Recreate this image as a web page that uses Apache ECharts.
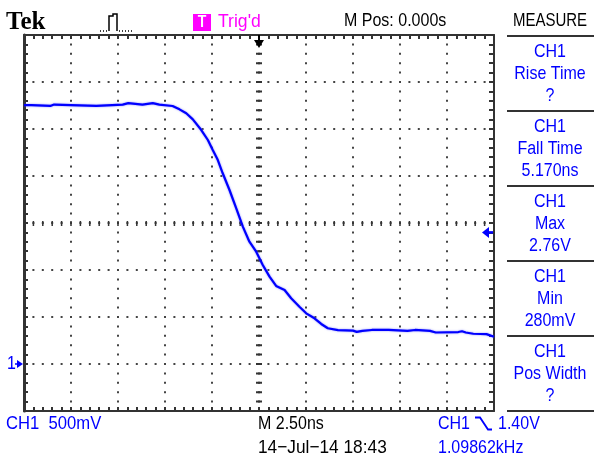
<!DOCTYPE html>
<html><head><meta charset="utf-8">
<script src="https://cdn.jsdelivr.net/npm/echarts@6/dist/echarts.min.js"></script>
<style>html,body{margin:0;padding:0;background:#fff;overflow:hidden}#c{width:594px;height:462px}</style>
</head><body><div id="c"></div>
<script>
// ---- data (time in ns, voltage in V) ----
const timeNs = [-12.5,-12.1,-12.05,-11.1,-11.05,-10.9,-10.85,-8.65,-8.6,-7.25,-7.2,-6.95,-6.9,-6.2,-6.15,-5.65,-5.6,-5.3,-5.25,-4.6,
  -4.23,-3.87,-3.52,-3.07,-2.72,-2.46,-2.19,-1.93,-1.57,-1.21,-0.86,-0.51,-0.15,0.20,0.56,0.91,1.36,1.71,2.15,2.51,2.95,3.31,3.66,
  4.2,5.0,5.2,5.5,6.0,6.9,7.0,7.9,8.0,8.3,8.4,9.1,9.4,10.6,10.8,11.0,11.4,12.1,12.5];
const volts = [2.755,2.755,2.745,2.745,2.76,2.76,2.745,2.745,2.76,2.76,2.775,2.775,2.76,2.76,2.775,2.775,2.76,2.76,2.745,2.745,
  2.709,2.667,2.603,2.489,2.383,2.277,2.17,2.029,1.851,1.656,1.461,1.301,1.195,1.053,0.929,0.83,0.787,0.699,0.61,0.539,0.486,0.426,0.38,
  0.36,0.355,0.342,0.352,0.362,0.362,0.352,0.352,0.362,0.362,0.352,0.352,0.335,0.34,0.348,0.335,0.322,0.318,0.29];
const timeRangeNs = [-12.5, 12.5];   // 2.50ns/div, 10 div
const nsPerDiv = 2.5;
const voltRange = [-0.5, 3.5];       // 500mV/div, 8 div
const voltsPerDiv = 0.5;
const triggerLevel = 1.40;
const triggerTime = 0;
const groundLevel = 0;
const measureBlocks = [["CH1","Rise Time","?"],["CH1","Fall Time","5.170ns"],["CH1","Max","2.76V"],["CH1","Min","280mV"],["CH1","Pos Width","?"]];

const BLUE = '#0000ff';
const FONT = 'Liberation Sans, Arial, sans-serif';
const chart = echarts.init(document.getElementById('c'), null, {renderer: 'canvas'});

const dotLine = {type: [2, 7.4], dashOffset: 1, color: '#444', width: 2};
const tickStyle = {color: '#333', width: 2};
function frameAxis(pos, extra) {
  return Object.assign({
    type: 'value', position: pos, gridIndex: 0,
    axisLine: {show: true, onZero: false, lineStyle: {color: '#333', width: 2}},
    axisTick: {show: true, inside: true, length: 4, lineStyle: tickStyle},
    minorTick: {show: true, splitNumber: 5, length: 4, lineStyle: tickStyle},
    axisLabel: {show: false}, splitLine: {show: false}, minorSplitLine: {show: false}
  }, extra);
}

const xMain = frameAxis('bottom', {min: timeRangeNs[0], max: timeRangeNs[1], interval: nsPerDiv, splitLine: {show: true, lineStyle: dotLine}});
const xTop = frameAxis('top', {min: timeRangeNs[0], max: timeRangeNs[1], interval: nsPerDiv});
const yMain = frameAxis('left', {min: voltRange[0], max: voltRange[1], interval: voltsPerDiv, splitLine: {show: true, lineStyle: dotLine}});
yMain.axisLine.lineStyle.width = 3;
const yRight = frameAxis('right', {min: voltRange[0], max: voltRange[1], interval: voltsPerDiv});
yRight.axisTick.length = 5; yRight.minorTick.length = 5;

const centerV = (voltRange[0] + voltRange[1]) / 2;
const centerT = (timeRangeNs[0] + timeRangeNs[1]) / 2;

chart.setOption({
  animation: false,
  backgroundColor: '#fff',
  grid: {left: 24, top: 35, width: 470, height: 376, outerBoundsMode: 'none', containLabel: false, show: false},
  xAxis: [xMain, xTop],
  yAxis: [yMain, yRight],
  series: [{
    type: 'line', xAxisIndex: 0, yAxisIndex: 0,
    data: timeNs.map((t, i) => [t, volts[i]]),
    showSymbol: false, symbol: 'none', silent: true,
    lineStyle: {color: BLUE, width: 2.2, shadowColor: 'rgba(90,90,255,0.7)', shadowBlur: 2},
    z: 5,
    markLine: {
      silent: true, symbol: ['none', 'none'], label: {show: false}, animation: false,
      emphasis: {disabled: true},
      data: [
        {xAxis: centerT, lineStyle: {color: '#333', width: 6, type: [2, 7.4], dashOffset: 1}},
        {yAxis: centerV, lineStyle: {color: '#333', width: 5, type: [1.5, 7.9], dashOffset: 0.75}}
      ]
    }
  }]
});

// ---- annotations ----
function txt(text, x, y, opt) {
  opt = opt || {};
  return {type: 'text', x: x, y: y, scaleX: opt.sx || 1, scaleY: opt.sy || 1.18, silent: true, z: 10,
    style: {text: text, x: 0, y: 0, textAlign: opt.align || 'left', textVerticalAlign: 'middle',
      font: (opt.weight || 'normal') + ' ' + (opt.size || 16) + 'px ' + (opt.family || FONT), fill: opt.color || '#000'}};
}
const els = [];
els.push(txt('Tek', 6, 22, {size: 25, weight: 'bold', family: 'Liberation Serif, serif', sy: 1.05}));
// acquisition icon
els.push({type: 'polyline', silent: true, shape: {points: [[109,31],[109,16],[113,16],[113,14],[117,14],[117,31]]}, style: {stroke: '#000', lineWidth: 1.5, fill: null}});
els.push({type: 'line', silent: true, shape: {x1: 100, y1: 31, x2: 108, y2: 31}, style: {stroke: '#000', lineWidth: 1.5, lineDash: [1, 2]}});
els.push({type: 'line', silent: true, shape: {x1: 119, y1: 31, x2: 133, y2: 31}, style: {stroke: '#000', lineWidth: 1.5, lineDash: [1, 2]}});
// trigger status
els.push({type: 'rect', silent: true, shape: {x: 193, y: 14, width: 18, height: 17}, style: {fill: '#ff00ff'}});
els.push(txt('T', 202, 22.5, {align: 'center', color: '#fff', weight: 'bold', size: 14}));
els.push(txt("Trig'd", 218, 21.5, {color: '#ff00ff', sx: 1.1}));
els.push(txt('M Pos: 0.000s', 344, 20.5, {sx: 1.0}));
els.push(txt('MEASURE', 550, 20.5, {align: 'center', size: 15, sy: 1.25}));
// measure panel
for (let i = 0; i <= 5; i++) {
  els.push({type: 'line', silent: true, shape: {x1: 507, y1: 36 + 75 * i, x2: 594, y2: 36 + 75 * i}, style: {stroke: '#333', lineWidth: 2}});
}
measureBlocks.forEach((b, i) => {
  const top = 36 + 75 * i;
  [16, 38, 59.5].forEach((dy, j) => els.push(txt(b[j], 550, top + dy, {align: 'center', color: BLUE})));
});
// bottom status
els.push(txt('CH1  500mV', 6, 423.5, {color: BLUE, sx: 1.04}));
els.push(txt('M 2.50ns', 258, 423.5));
els.push(txt('14\u2212Jul\u221214 18:43', 258, 448, {sx: 1.08}));
els.push(txt('CH1', 438, 423.5, {color: BLUE}));
els.push({type: 'polyline', silent: true, shape: {points: [[475,417.5],[480,417.5],[488,429.5],[492,429.5]]}, style: {stroke: BLUE, lineWidth: 1.8, fill: null}});
els.push(txt('1.40V', 498, 423.5, {color: BLUE}));
els.push(txt('1.09862kHz', 438, 448, {color: BLUE}));

// markers positioned through the chart's scales
const g = chart.convertToPixel({xAxisIndex: 0, yAxisIndex: 0}, [timeRangeNs[0], groundLevel]);
els.push(txt('1', 7, g[1], {color: BLUE}));
els.push({type: 'polygon', silent: true, shape: {points: [[17, g[1] - 4], [23, g[1]], [17, g[1] + 4]]}, style: {fill: BLUE}});
els.push({type: 'line', silent: true, shape: {x1: 15, y1: g[1], x2: 19, y2: g[1]}, style: {stroke: BLUE, lineWidth: 1.5}});
const tl = chart.convertToPixel({xAxisIndex: 0, yAxisIndex: 0}, [timeRangeNs[1], triggerLevel]);
els.push({type: 'polygon', silent: true, z: 12, shape: {points: [[tl[0] - 12, tl[1]], [tl[0] - 5, tl[1] - 5.5], [tl[0] - 5, tl[1] + 5.5]]}, style: {fill: BLUE}});
els.push({type: 'line', silent: true, z: 12, shape: {x1: tl[0] - 6, y1: tl[1], x2: tl[0] - 1, y2: tl[1]}, style: {stroke: BLUE, lineWidth: 2.5}});
const tp = chart.convertToPixel({xAxisIndex: 0, yAxisIndex: 0}, [triggerTime, voltRange[1]]);
els.push({type: 'line', silent: true, z: 12, shape: {x1: tp[0], y1: tp[1], x2: tp[0], y2: tp[1] + 7}, style: {stroke: '#000', lineWidth: 2}});
els.push({type: 'polygon', silent: true, z: 12, shape: {points: [[tp[0] - 5, tp[1] + 5], [tp[0] + 5, tp[1] + 5], [tp[0], tp[1] + 13]]}, style: {fill: '#000'}});

chart.setOption({graphic: {elements: els}});
</script></body></html>
